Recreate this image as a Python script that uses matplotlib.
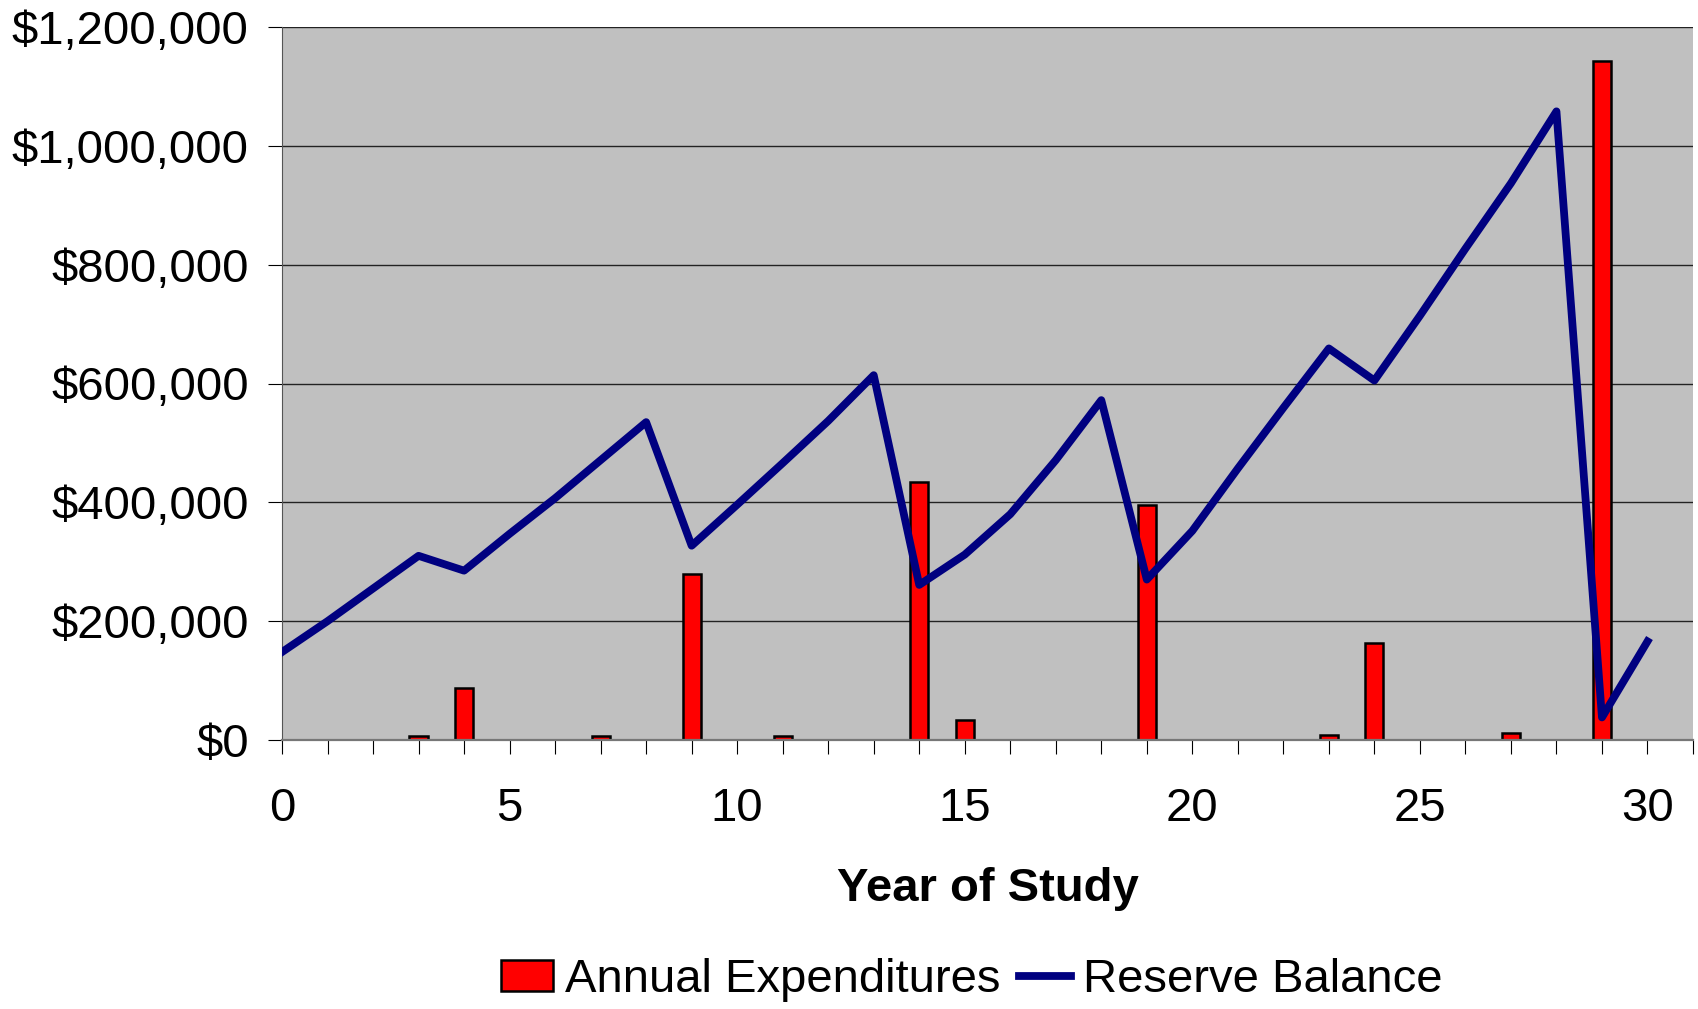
import matplotlib
matplotlib.use("Agg")
import matplotlib.pyplot as plt
from matplotlib.ticker import FuncFormatter, MultipleLocator

plt.rcParams['font.family'] = ['Liberation Sans', 'DejaVu Sans']

# Données
years = list(range(0, 31))
reserve_balance = [148000, 200000, 255000, 310000, 285000, 347000, 407000, 471000,
                   535000, 327000, 396000, 466000, 537000, 614000, 261000, 312000,
                   380000, 471000, 572000, 270000, 352000, 457000, 559000, 659000,
                   605000, 714000, 827000, 937000, 1058000, 38000, 166000]

exp_years = [3, 4, 7, 9, 11, 14, 15, 19, 23, 24, 27, 29]
expenditures = [6000, 88000, 7000, 279000, 7000, 435000, 34000, 396000,
                9000, 163000, 11000, 1143000]

fig = plt.figure(figsize=(16.98, 10.09), dpi=100)
ax = fig.add_axes([282 / 1698, 1 - 740 / 1009, 1411 / 1698, 713 / 1009])
ax.set_facecolor('#C0C0C0')

bars = ax.bar(exp_years, expenditures, width=0.40, color='#FF0000', edgecolor='black',
              linewidth=1.8, label='Annual Expenditures', zorder=2)
line, = ax.plot(years, reserve_balance, color='#000080', linewidth=5.6,
                solid_joinstyle='round', label='Reserve Balance', zorder=3)

ax.set_xlim(0, 31)
ax.set_ylim(0, 1200000)
ax.xaxis.set_major_locator(MultipleLocator(1))
ax.yaxis.set_major_locator(MultipleLocator(200000))
ax.xaxis.set_major_formatter(FuncFormatter(
    lambda x, _: f'{int(round(x))}' if round(x) % 5 == 0 and x <= 30 else ''))
ax.yaxis.set_major_formatter(FuncFormatter(lambda y, _: f'${y:,.0f}'))

ax.grid(True, axis='y', color='#222222', linewidth=1.0)
ax.set_axisbelow(True)
# pas de ligne de grille en haut
ax.yaxis.get_gridlines()[-1].set_visible(False)

for side in ['top', 'right']:
    ax.spines[side].set_visible(False)
ax.spines['left'].set_color('#555555')
ax.spines['bottom'].set_color('#777777')
ax.spines['bottom'].set_linewidth(1.6)

ax.tick_params(axis='both', direction='out', length=10, width=0.8, colors='black',
               labelsize=34)
ax.tick_params(axis='x', pad=24)
ax.tick_params(axis='y', pad=14)

ax.set_xlabel('Year of Study', fontsize=34, fontweight='bold', labelpad=26)

fig.legend([bars, line], ['Annual Expenditures', 'Reserve Balance'],
           loc='center', bbox_to_anchor=(972 / 1698, 1 - 980 / 1009), ncol=2,
           frameon=False, fontsize=34, handlelength=1.1, handleheight=0.65,
           handletextpad=0.25, columnspacing=0.4)

fig.savefig('out.png', dpi=100)
